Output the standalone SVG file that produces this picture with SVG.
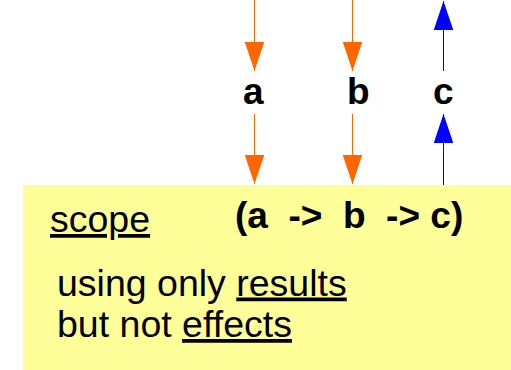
<svg xmlns="http://www.w3.org/2000/svg" width="511" height="370" viewBox="0 0 511 370">
  <style>
    .lbl { font-family: "Liberation Sans", Arial, sans-serif; font-size: 37px; fill: #000; }
    .r { font-size: 37.5px; }
    .b { font-weight: bold; }
    .u { text-decoration: underline; }
    .orange { stroke: #ff6600; stroke-width: 1; fill: none; }
    .blue { stroke: #0000ff; stroke-width: 1; fill: none; }
  </style>
  <defs>
    <marker id="hOrange" markerUnits="userSpaceOnUse" markerWidth="29" markerHeight="20" refX="29" refY="9.75" orient="auto">
      <path d="M0,0 L29,9.75 L0,19.5 z" fill="#ff6600"/>
    </marker>
    <marker id="hBlue" markerUnits="userSpaceOnUse" markerWidth="29" markerHeight="20" refX="29" refY="9.75" orient="auto">
      <path d="M0,0 L29,9.75 L0,19.5 z" fill="#0000ff"/>
    </marker>
  </defs>

  <g id="scope-box">
    <rect x="23" y="185" width="488" height="185" fill="#ffff99"/>
    <text class="lbl r u" x="50" y="232">scope</text>
    <text class="lbl b" x="235" y="227.5" xml:space="preserve">(a  -&gt;  b  -&gt; c)</text>
    <text class="lbl r" x="57" y="295.5">using only <tspan class="u">results</tspan></text>
    <text class="lbl r" x="57" y="337">but not <tspan class="u">effects</tspan></text>
  </g>

  <g id="label-a">
    <text class="lbl b" x="243" y="104">a</text>
  </g>
  <g id="label-b">
    <text class="lbl b" x="347" y="104">b</text>
  </g>
  <g id="label-c">
    <text class="lbl b" x="433" y="104">c</text>
  </g>

  <g id="connectors">
    <line class="orange" x1="254.5" y1="0" x2="254.5" y2="71" marker-end="url(#hOrange)"/>
    <line class="orange" x1="254.5" y1="114" x2="254.5" y2="184" marker-end="url(#hOrange)"/>
    <line class="orange" x1="352.5" y1="0" x2="352.5" y2="71" marker-end="url(#hOrange)"/>
    <line class="orange" x1="352.5" y1="114" x2="352.5" y2="184" marker-end="url(#hOrange)"/>
    <line class="blue" x1="443.5" y1="185" x2="443.5" y2="114" marker-end="url(#hBlue)"/>
    <line class="blue" x1="443.5" y1="71" x2="443.5" y2="1" marker-end="url(#hBlue)"/>
  </g>
</svg>
